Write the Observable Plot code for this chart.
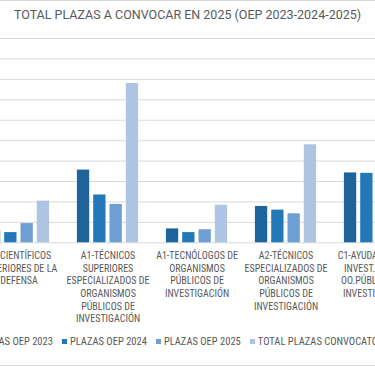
<!DOCTYPE html>
<html><head><meta charset="utf-8">
<script src="https://cdn.jsdelivr.net/npm/d3@7"></script>
<script src="https://cdn.jsdelivr.net/npm/@observablehq/plot@0.6"></script>
<style>
html,body{margin:0;padding:0;background:#fff;}
#wrap{position:relative;width:375px;height:366px;overflow:hidden;font-family:"Roboto Condensed",Roboto,"Liberation Sans",sans-serif;color:#595959;}
#frame{position:absolute;left:-2px;top:0;width:380px;height:364px;border-top:1px solid #d9d9d9;border-bottom:1px solid #d9d9d9;}
#title{position:absolute;left:0;width:375px;top:7px;text-align:center;font-family:Roboto,"Liberation Sans",sans-serif;font-size:12.5px;white-space:nowrap;}
#chart{position:absolute;top:0;left:-27.75px;width:449px;}
#chart svg{max-width:none;}
#legend{position:absolute;top:335px;left:0;display:flex;white-space:nowrap;font-size:10.5px;align-items:center;}
.item{display:flex;align-items:center;margin-right:9px}
.sw{width:5px;height:5px;margin-right:3px;flex:none}
</style></head><body>
<div id="wrap"><div id="frame"></div><div id="chart"></div><div id="title"></div><div id="legend"></div></div>
<script>
const titleText = "TOTAL PLAZAS A CONVOCAR EN 2025 (OEP 2023-2024-2025)";
const categories = [
  "A1-CIENTÍFICOS SUPERIORES DE LA DEFENSA",
  "A1-TÉCNICOS SUPERIORES ESPECIALIZADOS DE ORGANISMOS PÚBLICOS DE INVESTIGACIÓN",
  "A1-TECNÓLOGOS DE ORGANISMOS PÚBLICOS DE INVESTIGACIÓN",
  "A2-TÉCNICOS ESPECIALIZADOS DE ORGANISMOS PÚBLICOS DE INVESTIGACIÓN",
  "C1-AYUDANTES DE INVEST. DE LOS OO.PÚBLICOS DE INVESTIGACIÓN"
];
const categoryLines = [
  ["A1-CIENTÍFICOS", "SUPERIORES DE LA", "DEFENSA"],
  ["A1-TÉCNICOS", "SUPERIORES", "ESPECIALIZADOS DE", "ORGANISMOS", "PÚBLICOS DE", "INVESTIGACIÓN"],
  ["A1-TECNÓLOGOS DE", "ORGANISMOS", "PÚBLICOS DE", "INVESTIGACIÓN"],
  ["A2-TÉCNICOS", "ESPECIALIZADOS DE", "ORGANISMOS", "PÚBLICOS DE", "INVESTIGACIÓN"],
  ["C1-AYUDANTES DE", "INVEST. DE LOS", "OO.PÚBLICOS DE", "INVESTIGACIÓN"]
];
const seriesNames = ["PLAZAS OEP 2023", "PLAZAS OEP 2024", "PLAZAS OEP 2025", "TOTAL PLAZAS CONVOCATORIA 2025"];
const oep2023 = [30, 178, 34, 89, 171];
const oep2024 = [25, 117, 25, 80, 170];
const oep2025 = [47, 94, 32, 71, 120];
const totalPlazas = [102, 390, 92, 240, 461];
const yTicks = [0, 50, 100, 150, 200, 250, 300, 350, 400, 450, 500];
const colors = ["#1e6399", "#2378ba", "#6e9fd3", "#adc4e3"];

const seriesValues = [oep2023, oep2024, oep2025, totalPlazas];
const rows = [];
seriesNames.forEach((s, i) => seriesValues[i].forEach((v, j) => rows.push({category: categories[j], series: s, value: v})));

const FONT = '"Roboto Condensed",Roboto,"Liberation Sans",sans-serif';
const step = 89.7, barW = 13, barStep = 16.3;
const pad0 = (step - (barStep * 3 + barW)) / 2;
const H = 330, baseY = 242.3;

const marks = [Plot.gridY(yTicks, {stroke: "#d9d9d9", strokeOpacity: 1})];
seriesNames.forEach((s, i) => {
  marks.push(Plot.barY(rows.filter(d => d.series === s), {
    x: "category", y: "value", fill: colors[i],
    insetLeft: pad0 + i * barStep, insetRight: step - pad0 - i * barStep - barW
  }));
});
marks.push(Plot.axisX({
  tickSize: 0, tickPadding: 7, fontSize: 10, lineHeight: 1.27, fill: "#595959",
  tickFormat: c => categoryLines[categories.indexOf(c)].join("\n"), label: null
}));

const chart = Plot.plot({
  width: step * 5, height: H,
  marginLeft: 0, marginRight: 0, marginTop: 38, marginBottom: H - baseY,
  x: {domain: categories, padding: 0, axis: null},
  y: {domain: [0, 500], axis: null},
  style: {fontFamily: FONT, background: "transparent", color: "#595959", maxWidth: "none"},
  marks
});
document.getElementById("chart").appendChild(chart);
document.getElementById("title").textContent = titleText;

const legend = document.getElementById("legend");
seriesNames.forEach((s, i) => {
  const it = document.createElement("div"); it.className = "item";
  const sw = document.createElement("span"); sw.className = "sw"; sw.style.background = colors[i];
  const tx = document.createElement("span"); tx.textContent = s;
  it.appendChild(sw); it.appendChild(tx); legend.appendChild(it);
});
const sq2 = legend.children[1].firstChild;
legend.style.left = (62 - sq2.offsetLeft) + "px";
</script></body></html>
